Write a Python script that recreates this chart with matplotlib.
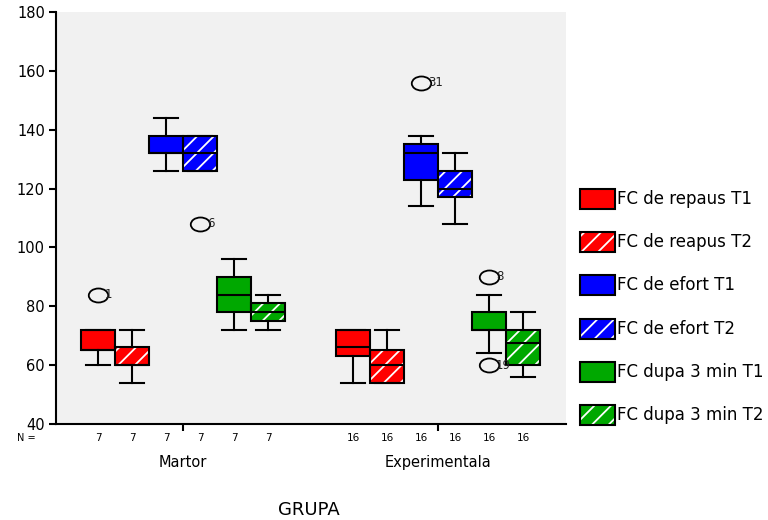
import matplotlib
matplotlib.use("Agg")
import matplotlib.pyplot as plt
from matplotlib.patches import PathPatch, Rectangle
from matplotlib.path import Path

# data
groups = ['Martor', 'Experimentala']
n_counts = [7, 16]
series = ['FC de repaus T1', 'FC de reapus T2', 'FC de efort T1',
          'FC de efort T2', 'FC dupa 3 min T1', 'FC dupa 3 min T2']
colors = ['#ff0000', '#ff0000', '#0000ff', '#0000ff', '#00a800', '#00a800']
hatched = [False, True, False, True, False, True]

# box stats per series: lower whisker, Q1, median, Q3, upper whisker
martor_whislo = [60, 54, 126, 126, 72, 72]
martor_q1 = [65, 60, 132, 126, 78, 75]
martor_med = [65, 60, 132, 132, 84, 78]
martor_q3 = [72, 66, 138, 138, 90, 81]
martor_whishi = [72, 72, 144, 138, 96, 84]
martor_fliers = [[84], [], [], [108], [], []]
martor_flier_ids = [['1'], [], [], ['6'], [], []]

exp_whislo = [54, 54, 114, 108, 64, 56]
exp_q1 = [63, 54, 123, 117, 72, 60]
exp_med = [66, 60, 132, 120, 72, 67.5]
exp_q3 = [72, 65, 135, 126, 78, 72]
exp_whishi = [72, 72, 138, 132, 84, 78]
exp_fliers = [[], [], [156], [], [90, 60], []]
exp_flier_ids = [[], [], ['31'], [], ['8', '19'], []]

plt.rcParams['font.family'] = ['DejaVu Sans']
plt.rcParams['hatch.color'] = 'white'
plt.rcParams['hatch.linewidth'] = 1.3

# flattened circle, like the SPSS outlier mark
circ = Path.unit_circle()
oval = Path(circ.vertices * [1.0, 0.72], circ.codes)

W, H = 768, 520
fig = plt.figure(figsize=(W / 100, H / 100), dpi=100)
ax = fig.add_axes([56 / W, 1 - 424 / H, 510 / W, 412 / H])
ax.set_facecolor('#f1f1f1')

group_centers = [0, 7.5]
all_stats = [
    (martor_whislo, martor_q1, martor_med, martor_q3, martor_whishi, martor_fliers, martor_flier_ids),
    (exp_whislo, exp_q1, exp_med, exp_q3, exp_whishi, exp_fliers, exp_flier_ids),
]

for gc, n, st in zip(group_centers, n_counts, all_stats):
    wlo, q1, med, q3, whi, fl, ids = st
    pos = [gc - 2.5 + k for k in range(len(series))]
    bstats = []
    for k in range(len(series)):
        bstats.append(dict(whislo=wlo[k], q1=q1[k], med=med[k], q3=q3[k],
                           whishi=whi[k], fliers=fl[k]))
    res = ax.bxp(bstats, positions=pos, widths=1.0, capwidths=0.7,
                 patch_artist=True, showfliers=True,
                 boxprops=dict(edgecolor='white', linewidth=0),
                 medianprops=dict(color='black', linewidth=1.5),
                 whiskerprops=dict(color='black', linewidth=1.5),
                 capprops=dict(color='black', linewidth=1.5),
                 flierprops=dict(marker=oval, markersize=14, markerfacecolor='none',
                                 markeredgecolor='black', markeredgewidth=1.3))
    for k, b in enumerate(res['boxes']):
        b.set_facecolor(colors[k])
        if hatched[k]:
            b.set_hatch('//')
        ax.add_patch(PathPatch(b.get_path(), fill=False, edgecolor='black',
                               linewidth=1.5, zorder=b.get_zorder() + 0.1))
    for k in range(len(series)):
        for v, lab in zip(fl[k], ids[k]):
            ax.text(pos[k] + 0.2, v, lab, fontsize=8.5, ha='left', va='center',
                    color='#222222')
        ax.text(pos[k], -0.035, str(n), transform=ax.get_xaxis_transform(),
                ha='center', va='center', fontsize=7.5)

ax.text(-0.058, -0.035, 'N =', transform=ax.transAxes, ha='center', va='center', fontsize=7)

ax.set_xlim(-3.74, 11.26)
ax.set_ylim(40, 180)
ax.set_yticks(range(40, 181, 20))
ax.set_xticks(group_centers)
ax.set_xticklabels(groups, fontsize=10.5)
ax.tick_params(axis='x', length=5, width=1.5, pad=17)
ax.tick_params(axis='y', length=5, width=1.5, labelsize=10.5, pad=3)
for s in ['top', 'right']:
    ax.spines[s].set_visible(False)
for s in ['left', 'bottom']:
    ax.spines[s].set_linewidth(1.5)

fig.text(309 / W, 1 - 510 / H, 'GRUPA', ha='center', va='center', fontsize=13)

# legend drawn as swatches to keep the white hatch
for k, name in enumerate(series):
    yc = 199 + k * 43.2
    sw = Rectangle((580 / W, 1 - (yc + 10) / H), 35 / W, 20 / H, transform=fig.transFigure,
                   facecolor=colors[k], edgecolor='white', linewidth=0,
                   hatch='//' if hatched[k] else None)
    fig.add_artist(sw)
    fig.add_artist(Rectangle((580 / W, 1 - (yc + 10) / H), 35 / W, 20 / H,
                             transform=fig.transFigure, fill=False,
                             edgecolor='black', linewidth=1.5))
    fig.text(617 / W, 1 - yc / H, name, ha='left', va='center', fontsize=12)

fig.savefig('out.png', dpi=100)
